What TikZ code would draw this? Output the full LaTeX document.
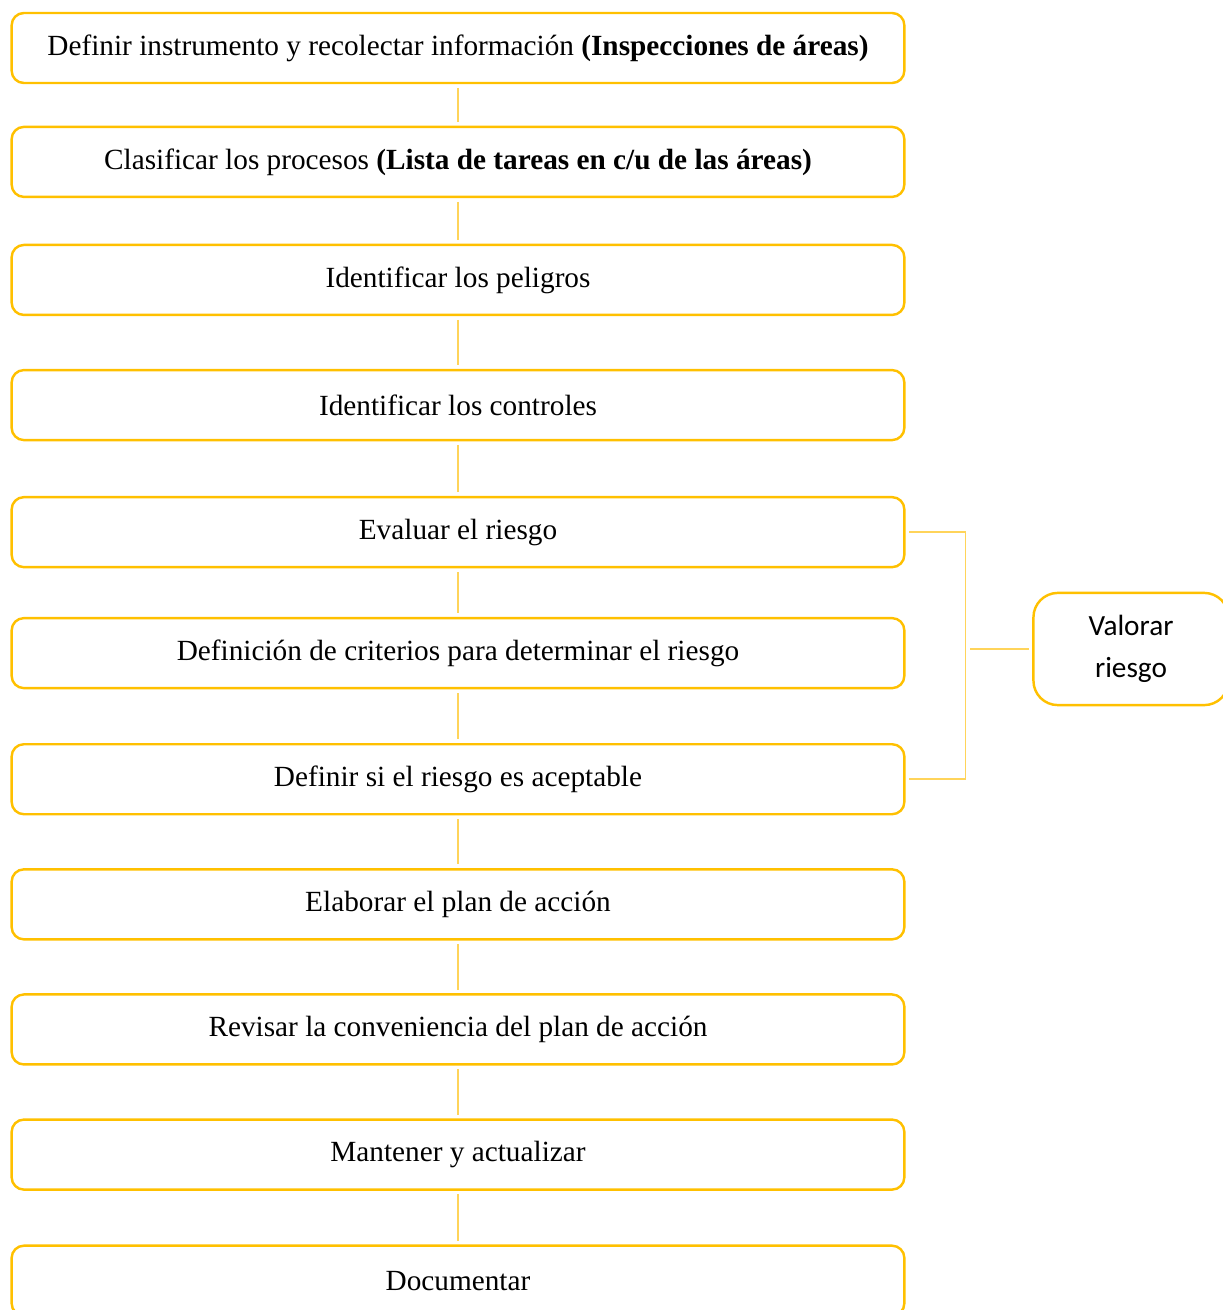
\documentclass[tikz,border=0pt]{standalone}
\usepackage{fontspec}
\setmainfont{Liberation Serif}
\newfontfamily\valfont{Carlito}
\usetikzlibrary{positioning}
\definecolor{boxgold}{RGB}{255,192,0}
\definecolor{linegold}{RGB}{255,212,90}

\begin{document}
\begin{tikzpicture}[
    x=0.41pt, y=-0.41pt,
    procbox/.style={rectangle, rounded corners=5pt, draw=boxgold, line width=1pt,
        outer sep=0pt, minimum width=366pt, minimum height=28.7pt, align=center,
        font=\fontsize{12}{14}\selectfont},
    sidebox/.style={procbox, rounded corners=10pt, minimum width=80pt,
        minimum height=46pt, font=\valfont\fontsize{12}{17}\selectfont},
    link/.style={draw=linegold, line width=0.6pt, shorten <=2pt, shorten >=2pt}
]
\useasboundingbox (0,0) rectangle (1223,1310);

% Main chain of steps
\node[procbox] (def) at (458,48) {Definir instrumento y recolectar información \textbf{(Inspecciones de áreas)}};
\node[procbox, below=18pt of def] (clas) {Clasificar los procesos \textbf{(Lista de tareas en c/u de las áreas)}};
\node[procbox, below=19.7pt of clas] (pel) {Identificar los peligros};
\node[procbox, below=22.6pt of pel] (ctrl) {Identificar los controles};
\node[procbox, below=23.4pt of ctrl] (eval) {Evaluar el riesgo};
\node[procbox, below=20.9pt of eval] (crit) {Definición de criterios para determinar el riesgo};
\node[procbox, below=23pt of crit] (acep) {Definir si el riesgo es aceptable};
\node[procbox, below=22.6pt of acep] (plan) {Elaborar el plan de acción};
\node[procbox, below=22.6pt of plan] (rev) {Revisar la conveniencia del plan de acción};
\node[procbox, below=22.6pt of rev] (mant) {Mantener y actualizar};
\node[procbox, below=23pt of mant] (doc) {Documentar};

% Side box
\node[sidebox] (val) at (1131,649) {Valorar\\riesgo};

% Links between steps
\draw[link] (def) -- (clas);
\draw[link] (clas) -- (pel);
\draw[link] (pel) -- (ctrl);
\draw[link] (ctrl) -- (eval);
\draw[link] (eval) -- (crit);
\draw[link] (crit) -- (acep);
\draw[link] (acep) -- (plan);
\draw[link] (plan) -- (rev);
\draw[link] (rev) -- (mant);
\draw[link] (mant) -- (doc);

% Bracket to the side box
\draw[link] (eval.east) -- ++(25pt,0) coordinate (brk) |- (acep.east);
\draw[link] (val.west) -- (val.west -| brk);

\end{tikzpicture}
\end{document}
